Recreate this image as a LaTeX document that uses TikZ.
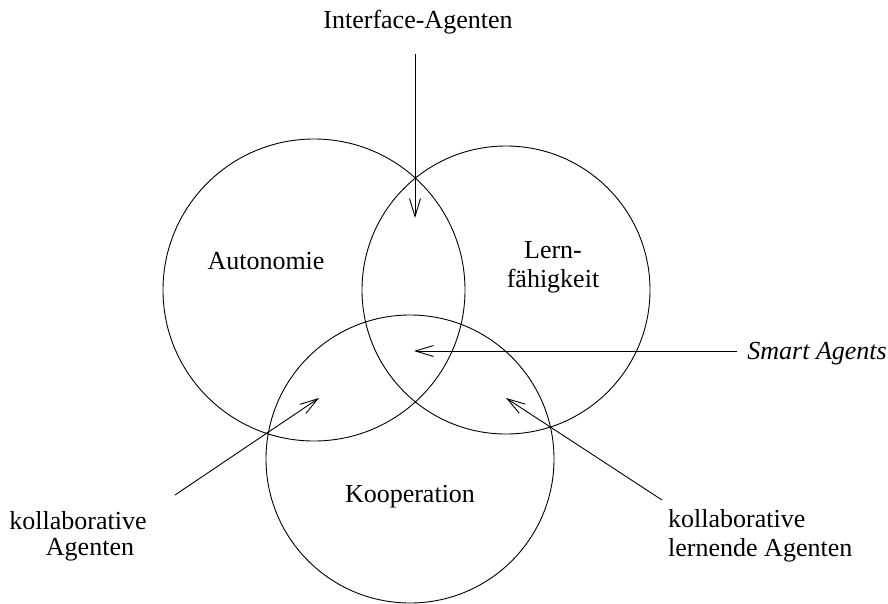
\documentclass[tikz,border=0pt]{standalone}
\usepackage{fontspec}
\setmainfont{Liberation Serif}
\usetikzlibrary{arrows.meta}
\begin{document}
\begin{tikzpicture}[x=1pt,y=-1pt,
  ring/.style={circle,draw,line width=0.9pt,inner sep=0pt},
  lbl/.style={inner sep=0pt,font=\fontsize{26}{29}\selectfont},
  pointer/.style={line width=0.9pt,-{Straight Barb[length=18pt,width=11pt,line width=0.9pt]}}]
\useasboundingbox (0,0) rectangle (888,603);

% the three property circles
\node[ring,minimum size=302pt] (auto) at (314,290) {};
\node[ring,minimum size=288pt] (lern) at (506,290) {};
\node[ring,minimum size=288pt] (koop) at (410,459) {};

% circle captions
\node[lbl] (tauto) at (266,261) {Autonomie};
\node[lbl,align=center] (tlern) at (553,267) {Lern-\\fähigkeit};
\node[lbl] (tkoop) at (410,497) {Kooperation};

% outside labels
\node[lbl] (tiface) at (418,22) {Interface-Agenten};
\node[lbl,anchor=east] (tsmart) at (887,354) {\itshape Smart Agents};
\node[lbl] (tkolA) at (78,521) {kollaborative};
\node[lbl] (tkolB) at (90,550) {Agenten};
\node[lbl,align=left,anchor=north west] (tkolL) at (668,509) {kollaborative\\lernende Agenten};

% arrow start and end points
\coordinate (ifaceS) at (415,54);
\coordinate (ifaceE) at (415,218);
\coordinate (smartS) at (737,351);
\coordinate (smartE) at (414,351);
\coordinate (kolS) at (175,495);
\coordinate (kolE) at (319,398);
\coordinate (kllS) at (662,500);
\coordinate (kllE) at (506,398);

\draw[pointer] (ifaceS) -- (ifaceE);
\draw[pointer] (smartS) -- (smartE);
\draw[pointer] (kolS) -- (kolE);
\draw[pointer] (kllS) -- (kllE);
\end{tikzpicture}
\end{document}
